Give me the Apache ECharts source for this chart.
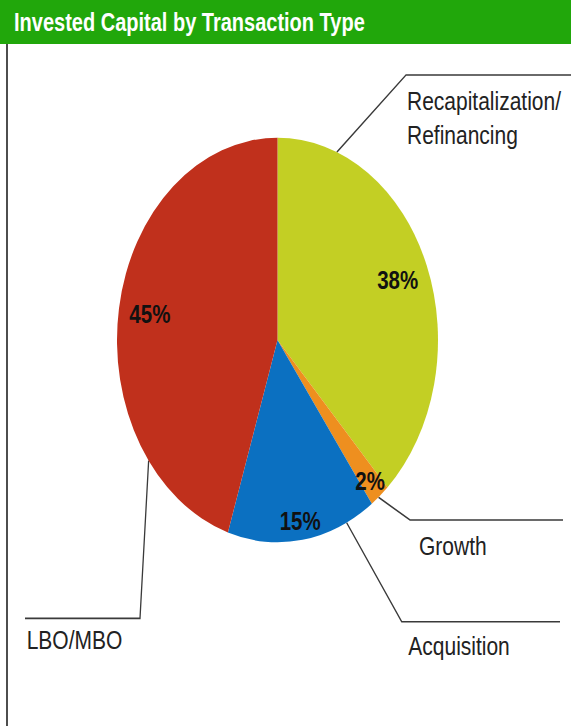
<!DOCTYPE html>
<html><head><meta charset="utf-8">
<script src="https://cdn.jsdelivr.net/npm/echarts@6/dist/echarts.min.js"></script>
<style>
html,body{margin:0;padding:0;background:#fff;overflow:hidden}
#wrap{width:571px;height:726px;overflow:hidden;position:relative}
#c{width:571px;height:576px;transform:scale(1,1.2604);transform-origin:0 0}
</style>
</head><body><div id="wrap"><div id="c"></div></div>
<script>
// ---- data ----
const chartTitle = 'Invested Capital by Transaction Type';
const categories = ['Recapitalization/\nRefinancing', 'Growth', 'Acquisition', 'LBO/MBO'];
const values = [38, 2, 15, 45];

// ---- style / layout (not data) ----
const colors = ['#c3cf24', '#ee8f1f', '#0b70c1', '#c0301c'];
const CX = 277.5, CY = 269.8, R = 160.5;
// which ring radius the percentage label sits in (0: ~0.79R, 1: ~0.89R)
const pctRing = [0, 1, 1, 0];
// leader lines: start angle on pie edge (deg clockwise from top), elbow, end x, text anchor
const leaders = [
  {angle: 21.7,  ex: 406, ey: 59.5,  endX: 575, tx: 407, ty: 93.5},
  {angle: 141,   ex: 410, ey: 412.6, endX: 563, tx: 419, ty: 433.2},
  {angle: 154.5, ex: 401.7, ey: 493.3, endX: 560, tx: 408.3, ty: 512},
  {angle: 233.4, ex: 140, ey: 490.6, endX: 25,  tx: 26.7, ty: 507.8}
];
const FONT = "'Liberation Sans', Arial, sans-serif";

const chart = echarts.init(document.getElementById('c'), null, {renderer: 'svg'});

function pctSeries(ring, r0) {
  return {
    type: 'pie', center: [CX, CY], radius: [r0, R], startAngle: 90, clockwise: true,
    silent: true, animation: false, emphasis: {disabled: true},
    itemStyle: {color: 'rgba(0,0,0,0)', borderWidth: 0},
    labelLine: {show: false},
    label: {position: 'inside', formatter: p => p.value + '%', color: '#111',
            fontFamily: FONT, fontWeight: 'bold', fontSize: 20.5},
    data: values.map((v, i) => ({value: v, name: categories[i], label: {show: pctRing[i] === ring}}))
  };
}

const option = {
  animation: false,
  backgroundColor: '#fff',
  title: {
    text: chartTitle, left: 14, top: 7.5, padding: 0,
    textStyle: {color: '#fff', fontFamily: FONT, fontWeight: 'bold', fontSize: 20, lineHeight: 20}
  },
  graphic: [
    {type: 'rect', z: -1, shape: {x: 0, y: 0, width: 571, height: 35}, style: {fill: '#21a70b'}},
    {type: 'line', shape: {x1: 7, y1: 35, x2: 7, y2: 580}, style: {stroke: '#3a3a3a', lineWidth: 1.8}}
  ],
  series: [
    {
      type: 'pie', center: [CX, CY], radius: R, startAngle: 90, clockwise: true,
      animation: false, emphasis: {disabled: true}, avoidLabelOverlap: false,
      itemStyle: {borderWidth: 0},
      label: {show: true, position: 'outside', formatter: p => p.name, color: '#222',
              fontFamily: FONT, fontSize: 21, lineHeight: 27}, 
      labelLine: {show: true, length: 20, length2: 20, smooth: false,
                  lineStyle: {color: '#3a3a3a', width: 1.3}},
      labelLayout: function (p) {
        const L = leaders[p.dataIndex];
        const a = L.angle * Math.PI / 180;
        const p0 = [CX + R * Math.sin(a), CY - R * Math.cos(a)];
        return {
          x: L.tx, y: L.ty, align: 'left', verticalAlign: 'middle',
          labelLinePoints: [p0, [L.ex, L.ey], [L.endX, L.ey]]
        };
      },
      data: values.map((v, i) => ({value: v, name: categories[i], itemStyle: {color: colors[i]}}))
    },
    pctSeries(0, 92),
    pctSeries(1, 124)
  ]
};
chart.setOption(option);
</script>
</body></html>
